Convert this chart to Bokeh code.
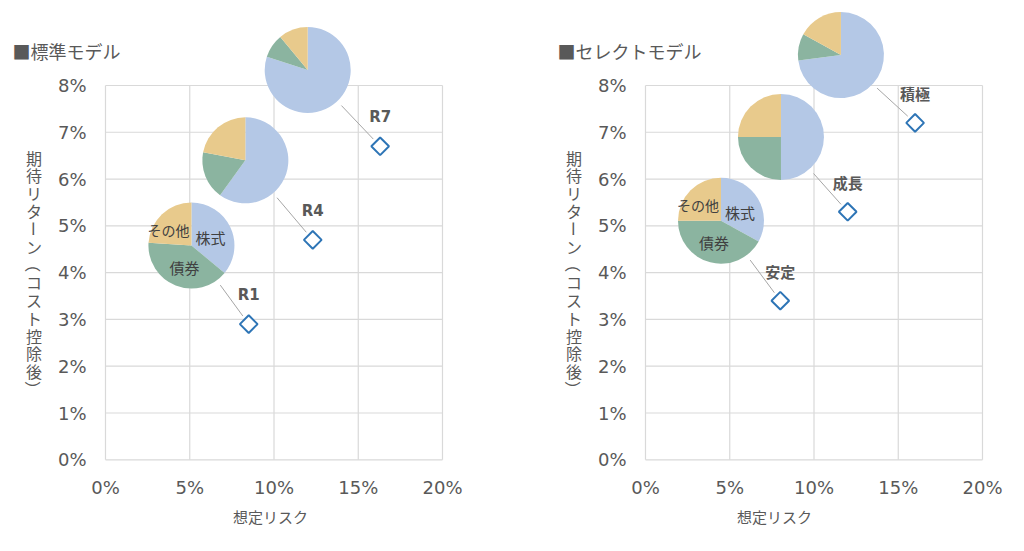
import math
from bokeh.plotting import figure
from bokeh.models import FixedTicker, Range1d, ColumnDataSource
from bokeh.layouts import row
from bokeh.embed import file_html
from bokeh.resources import INLINE
from bokeh.core.properties import value

# ---------------- data ----------------
x_ticks = [0, 5, 10, 15, 20]
x_tick_labels = ["0%", "5%", "10%", "15%", "20%"]
y_ticks = [0, 1, 2, 3, 4, 5, 6, 7, 8]
y_tick_labels = ["0%", "1%", "2%", "3%", "4%", "5%", "6%", "7%", "8%"]
x_title = "想定リスク"
y_title = "期待リターン（コスト控除後）"

asset_classes = ["株式", "債券", "その他"]

std_title = "■標準モデル"
std_names = ["R1", "R4", "R7"]
std_risk = [8.5, 12.3, 16.3]
std_return = [2.9, 4.7, 6.7]
std_stock = [36, 60, 80]
std_bond = [40, 18, 9]
std_other = [24, 22, 11]

sel_title = "■セレクトモデル"
sel_names = ["安定", "成長", "積極"]
sel_risk = [8.0, 12.0, 16.0]
sel_return = [3.4, 5.3, 7.2]
sel_stock = [33, 50, 73]
sel_bond = [42, 25, 10]
sel_other = [25, 25, 17]

# pie placement (data coordinates of pie centres)
std_pie_x = [5.1, 8.3, 12.0]
std_pie_y = [4.58, 6.40, 8.33]
sel_pie_x = [4.48, 8.04, 11.6]
sel_pie_y = [5.11, 6.90, 8.65]

# ---------------- style ----------------
PIE_COLORS = ["#B4C8E6", "#8BB4A0", "#E8CA8C"]
TEXT = "#595959"
GRID = "#D9D9D9"
JP = "Noto Sans CJK JP"
LAT = "DejaVu Sans"
PX_X = 16.85    # pixels per 1% on x
PX_Y = 46.79    # pixels per 1% on y
ORIGIN_X = 105  # canvas px of x = 0
ORIGIN_Y = 459.3  # canvas px of y = 0
PIE_R = 43
FRAME_H = 471


def dx_px(px):
    return (px - ORIGIN_X) / PX_X


def dy_px(py):
    return (ORIGIN_Y - py) / PX_Y


def make_chart(title, names, risk, ret, stock, bond, other, pie_x, pie_y,
               name_font, name_size, width, title_px):
    p = figure(frame_width=width, frame_height=FRAME_H,
               x_range=Range1d(dx_px(0), dx_px(width)),
               y_range=Range1d(dy_px(FRAME_H), dy_px(0)),
               min_border_left=0, min_border_right=0,
               min_border_top=0, min_border_bottom=52,
               output_backend="svg", toolbar_location=None)
    p.outline_line_color = None
    p.grid.visible = False
    p.yaxis.visible = False

    # grid
    xmin, xmax = min(x_ticks), max(x_ticks)
    ymin, ymax = min(y_ticks), max(y_ticks)
    p.segment(x0=x_ticks, y0=[ymin] * len(x_ticks), x1=x_ticks, y1=[ymax] * len(x_ticks),
              line_color=GRID, line_width=1.2)
    p.segment(x0=[xmin] * len(y_ticks), y0=y_ticks, x1=[xmax] * len(y_ticks), y1=y_ticks,
              line_color=GRID, line_width=1.2)

    # y tick labels
    p.text(x=[xmin] * len(y_ticks), y=y_ticks, text=y_tick_labels, x_offset=-19,
           text_align="right", text_baseline="middle", text_font=value(LAT),
           text_font_size="18px", text_color=TEXT)

    # vertical y title (tategaki)
    chars = list(y_title)
    p.text(x=[dx_px(33.5)] * len(chars),
           y=[dy_px(157 + i * 17.8) for i in range(len(chars))],
           text=chars,
           angle=[-math.pi / 2 if c in "ー（）" else 0 for c in chars],
           text_align="center", text_baseline="middle", text_font=value(JP),
           text_font_size="16px", text_color=TEXT)

    # chart title
    p.text(x=[dx_px(title_px)], y=[dy_px(50)], text=[title], text_align="left",
           text_baseline="middle", text_font=value(JP), text_font_size="18px",
           text_color=TEXT)

    # leader lines
    lx0, ly0, lx1, ly1 = [], [], [], []
    for cx, cy, rx, ry in zip(pie_x, pie_y, risk, ret):
        ddx = (cx - rx) * PX_X
        ddy = (cy - ry) * PX_Y
        d = math.hypot(ddx, ddy)
        ux, uy = ddx / d, ddy / d
        lx0.append(rx + 10 * ux / PX_X)
        ly0.append(ry + 10 * uy / PX_Y)
        lx1.append(cx - (PIE_R + 6) * ux / PX_X)
        ly1.append(cy - (PIE_R + 6) * uy / PX_Y)
    p.segment(x0=lx0, y0=ly0, x1=lx1, y1=ly1, line_color="#A6A6A6", line_width=1)

    # pies
    wx, wy, ws, we, wc = [], [], [], [], []
    for cx, cy, a, b, c in zip(pie_x, pie_y, stock, bond, other):
        tot = a + b + c
        acc = 0.0
        for frac, col in zip([a, b, c], PIE_COLORS):
            a0 = acc / tot * 360
            acc += frac
            a1 = acc / tot * 360
            wx.append(cx)
            wy.append(cy)
            ws.append(math.radians(90 - a1))
            we.append(math.radians(90 - a0))
            wc.append(col)
    src = ColumnDataSource(dict(x=wx, y=wy, s=ws, e=we, c=wc))
    p.wedge(x="x", y="y", radius=PIE_R, radius_units="screen", start_angle="s",
            end_angle="e", fill_color="c", line_color=None, source=src)

    # slice labels on the first pie
    p.text(x=[pie_x[0]] * 3, y=[pie_y[0]] * 3, text=asset_classes,
           x_offset=[19, -7, -23], y_offset=[-8, 22, -16],
           text_align="center", text_baseline="middle",
           text_font=value(JP), text_font_size=["15px", "15px", "14px"],
           text_color="#404040")

    # points
    p.scatter(risk, ret, marker="square", angle=math.pi / 4, size=12.5,
              fill_color="white", line_color="#2E75B6", line_width=2)
    p.text(risk, ret, text=names, y_offset=-29, text_align="center",
           text_baseline="middle", text_font=value(name_font),
           text_font_size=name_size, text_font_style="bold", text_color=TEXT)

    # x axis
    ax = p.xaxis[0]
    ax.ticker = FixedTicker(ticks=x_ticks)
    ax.major_label_overrides = dict(zip(x_ticks, x_tick_labels))
    ax.axis_line_color = None
    ax.major_tick_line_color = None
    ax.minor_tick_line_color = None
    ax.major_tick_out = 0
    ax.major_tick_in = 0
    ax.minor_tick_out = 0
    ax.major_label_text_font = LAT
    ax.major_label_text_font_size = "18px"
    ax.major_label_text_color = TEXT
    ax.major_label_standoff = 5
    ax.axis_label = x_title
    ax.axis_label_text_font = JP
    ax.axis_label_text_font_size = "15px"
    ax.axis_label_text_font_style = "normal"
    ax.axis_label_text_color = TEXT
    ax.axis_label_standoff = 5
    return p


p1 = make_chart(std_title, std_names, std_risk, std_return, std_stock, std_bond,
                std_other, std_pie_x, std_pie_y, LAT, "15px", 540, 12)
p2 = make_chart(sel_title, sel_names, sel_risk, sel_return, sel_stock, sel_bond,
                sel_other, sel_pie_x, sel_pie_y, JP, "15px", 468, 17)

layout = row(p1, p2, spacing=0)
open("out.html", "w").write(file_html(layout, INLINE))
